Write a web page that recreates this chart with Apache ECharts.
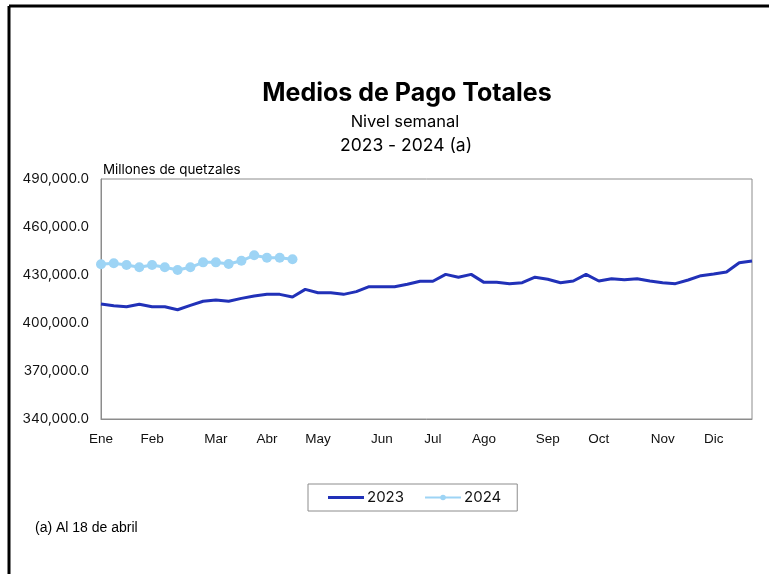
<!DOCTYPE html>
<html>
<head>
<meta charset="utf-8">
<script src="https://cdn.jsdelivr.net/npm/echarts@6/dist/echarts.min.js"></script>
<style>
html,body{margin:0;padding:0;background:#fff;}
#chart{width:769px;height:574px;}
</style>
</head>
<body>
<div id="chart"></div>
<script>
// Week categories (52 weeks), month names at first week of each month
const weekLabels = ['Ene','','','','Feb','','','','','Mar','','','','Abr','','','','May','','','','','Jun','','','','Jul','','','','Ago','','','','','Sep','','','','Oct','','','','','Nov','','','','Dic','','',''];
const seriesNames = ['2023','2024'];
const values2023 = [411900,410800,410200,411700,410200,410200,408300,411000,413600,414400,413600,415400,416900,417900,417900,416200,421000,418900,418900,417900,419600,422700,422700,422700,424200,426100,426100,430400,428600,430400,425400,425400,424600,425200,428600,427300,425200,426250,430400,426250,427700,427100,427700,426250,425200,424600,426900,429600,430600,431900,437700,438750];
const values2024 = [436700,437300,436250,434800,436250,434800,433100,434800,437900,437900,436900,438900,442300,440800,440800,439800];
const yTicks = {min:340000, max:490000, step:30000};

const chart = echarts.init(document.getElementById('chart'));
const fmt = v => v.toLocaleString('en-US',{minimumFractionDigits:1, maximumFractionDigits:1});
chart.setOption({
  animation:false,
  backgroundColor:'#fff',
  grid:{left:101, right:17, top:179, bottom:155, show:true, borderColor:'#8c8c8c', borderWidth:1, containLabel:false},
  xAxis:{
    type:'category', data:weekLabels, boundaryGap:false,
    axisLine:{show:true, lineStyle:{color:'#8c8c8c', width:1}},
    axisTick:{show:false},
    axisLabel:{interval:0, color:'#111', fontFamily:'Liberation Sans', fontSize:13.5, margin:13},
    splitLine:{show:false}
  },
  yAxis:{
    type:'value', min:yTicks.min, max:yTicks.max, interval:yTicks.step,
    axisLine:{show:true, lineStyle:{color:'#8c8c8c'}},
    axisTick:{show:false},
    splitLine:{show:false},
    axisLabel:{formatter:fmt, color:'#111', fontFamily:'Inter', fontSize:13.6, margin:12}
  },
  legend:{
    data:[
      {name:seriesNames[0], icon:'path://M0,0h36v3h-36z'},
      {name:seriesNames[1]}
    ],
    left:308, top:484, width:190, symbolKeepAspect:true,
    padding:[6,16,6,20], itemGap:20, itemWidth:36, itemHeight:7,
    borderColor:'#8c8c8c', borderWidth:1,
    textStyle:{fontFamily:'Inter', fontSize:15, color:'#111', padding:[0,0,0,-2]}
  },
  series:[
    {name:seriesNames[0], type:'line', data:values2023, symbol:'none', lineStyle:{color:'#2131B8', width:3}, itemStyle:{color:'#2131B8'}},
    {name:seriesNames[1], type:'line', data:values2024, symbol:'circle', symbolSize:10, lineStyle:{color:'#9DD4F5', width:3}, itemStyle:{color:'#9DD4F5'}}
  ],
  graphic:[
    {type:'line', shape:{x1:9, y1:6, x2:769, y2:6}, style:{stroke:'#000', lineWidth:3}},
    {type:'line', shape:{x1:9, y1:6, x2:9, y2:574}, style:{stroke:'#000', lineWidth:3}},
    {type:'text', x:407, y:93, style:{text:'Medios de Pago Totales', fontFamily:'Inter', fontWeight:'bold', fontSize:25, fill:'#000', textAlign:'center', textVerticalAlign:'middle'}},
    {type:'text', x:405, y:122, style:{text:'Nivel semanal', fontFamily:'Inter', fontSize:16.5, fill:'#000', textAlign:'center', textVerticalAlign:'middle'}},
    {type:'text', x:406, y:146, style:{text:'2023 - 2024 (a)', fontFamily:'Inter', fontSize:17.5, fill:'#000', textAlign:'center', textVerticalAlign:'middle'}},
    {type:'text', x:103, y:170, style:{text:'Millones de quetzales', fontFamily:'Inter', fontSize:13.4, fill:'#000', textAlign:'left', textVerticalAlign:'middle'}},
    {type:'text', x:35, y:528, style:{text:'(a) Al 18 de abril', fontFamily:'Liberation Sans', fontSize:14, fill:'#000', textAlign:'left', textVerticalAlign:'middle'}}
  ]
});
</script>
</body>
</html>
